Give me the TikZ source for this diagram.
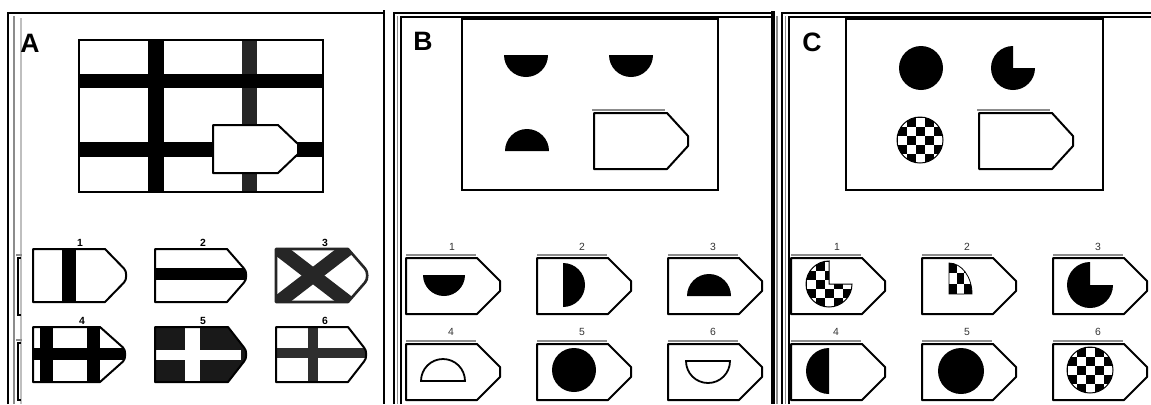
\documentclass[tikz,border=0pt]{standalone}
\usepackage{fontspec}
\setmainfont{Liberation Sans}
% flag with pointed tip: x0,y0,x1,xtip,y1
\newcommand\flagpath[5]{(#1,#2) -- (#3,#2) -- (#4,{(#2+#5)/2-5}) -- (#4,{(#2+#5)/2+5}) -- (#3,#5) -- (#1,#5) -- cycle}
% flag with rounded tip
\newcommand\aflagpath[5]{(#1,#2) -- (#3,#2) -- ({#4-3},{(#2+#5)/2-7}) .. controls (#4,{(#2+#5)/2-4}) and (#4,{(#2+#5)/2+4}) .. ({#4-3},{(#2+#5)/2+7}) -- (#3,#5) -- (#1,#5) -- cycle}
% checker cells: origin x, origin y, cell w, cell h, parity
\newcommand\checkcells[5]{%
  \foreach \ci in {-4,...,4}{\foreach \cj in {-4,...,4}{%
    \pgfmathtruncatemacro\cpar{mod(\ci+\cj+10+#5,2)}%
    \ifnum\cpar=0 \fill ({#1+\ci*#3},{#2+\cj*#4}) rectangle ++(#3,#4);\fi}}}
\tikzset{
  frameline/.style={draw=black, line width=1pt},
  shadeline/.style={draw=black!45, line width=0.8pt},
  lightline/.style={draw=black!25, line width=0.8pt},
  qbox/.style={draw=black, line width=1pt},
  flagbox/.style={draw=black, line width=1pt, fill=white, line join=round},
  plabel/.style={font=\fontsize{13.3}{14}\selectfont\bfseries, inner sep=0pt, anchor=base west},
  nlabel/.style={font=\fontsize{5.2}{6}\selectfont, text=black!80, inner sep=0pt, anchor=base},
  alabel/.style={font=\fontsize{5.2}{6}\selectfont\bfseries, inner sep=0pt, anchor=base},
  darkband/.style={fill=black!85},
}
\begin{document}
\begin{tikzpicture}[x=0.5pt,y=-0.5pt]
\useasboundingbox (0,0) rectangle (1151,404);
\fill[white] (0,0) rectangle (1151,404);

% ---------- window frames ----------
\draw[frameline] (8,404) -- (8,13) -- (384,13);
\draw[frameline] (383.5,10) -- (383.5,404);
\draw[shadeline] (14,16) -- (14,404);
\draw[lightline] (21,18) -- (21,404);
\draw[line width=0.6pt] (20.5,258) -- (18,258) -- (18,315) -- (20.5,315);
\draw[line width=0.6pt] (20.5,343) -- (18,343) -- (18,400) -- (20.5,400);
\draw[shadeline] (16,255) -- (22,255);
\draw[shadeline] (16,340) -- (22,340);

\draw[frameline] (394,404) -- (394,13) -- (773,13);
\draw[shadeline] (397.5,16) -- (397.5,404);
\draw[frameline] (401,404) -- (401,16.5) -- (773,16.5);
\draw[frameline, line width=2pt] (773,11) -- (773,404);
\draw[shadeline] (777,16) -- (777,404);

\draw[frameline] (782,404) -- (782,13) -- (1151,13);
\draw[shadeline] (785.5,16) -- (785.5,404);
\draw[frameline] (789,404) -- (789,16.5) -- (1151,16.5);

% ---------- panel labels ----------
\node[plabel] (la) at (20,52) {A};
\node[plabel] (lb) at (413,50) {B};
\node[plabel] (lc) at (802,51) {C};

% ---------- panel A: grid ----------
\fill (148,40) rectangle (164,192);
\fill[black!85] (242,40) rectangle (257,192);
\fill (79,74) rectangle (323,88);
\fill (79,142) rectangle (323,157);
\draw[qbox] (79,40) rectangle (323,192);
\draw[flagbox] \flagpath{213}{125}{278}{298}{173};

% ---------- panel A: options ----------
\node[alabel] (a1) at (80,246) {1};
\node[alabel] (a2) at (203,246) {2};
\node[alabel] (a3) at (325,246) {3};
\node[alabel] (a4) at (82,324) {4};
\node[alabel] (a5) at (203,324) {5};
\node[alabel] (a6) at (325,324) {6};

% A1
\fill[white] \aflagpath{33}{249}{105}{127}{302};
\begin{scope}\clip \aflagpath{33}{249}{105}{127}{302};
\fill (62,249) rectangle (76,302);
\end{scope}
\draw[flagbox, fill=none] \aflagpath{33}{249}{105}{127}{302};
% A2
\fill[white] \aflagpath{155}{249}{227}{247}{302};
\begin{scope}\clip \aflagpath{155}{249}{227}{247}{302};
\fill (155,268) rectangle (250,280);
\end{scope}
\draw[flagbox, fill=none] \aflagpath{155}{249}{227}{247}{302};
% A3
\fill[white] \aflagpath{276}{249}{348}{368}{302};
\begin{scope}\clip \aflagpath{276}{249}{348}{368}{302};
\draw[black!85, line width=7pt] (276,247) -- (350,304);
\draw[black!85, line width=7pt] (350,247) -- (276,304);
\end{scope}
\draw[flagbox, fill=none, draw=black!85, line width=1.3pt] \aflagpath{276}{249}{348}{368}{302};
% A4
\fill[white] \aflagpath{33}{327}{100}{126}{382};
\begin{scope}\clip \aflagpath{33}{327}{100}{126}{382};
\fill (40,327) rectangle (53,382);
\fill (87,327) rectangle (100,382);
\fill (33,348) rectangle (130,360);
\end{scope}
\draw[flagbox, fill=none] \aflagpath{33}{327}{100}{126}{382};
% A5
\fill[black!90] \aflagpath{155}{327}{228}{247}{382};
\fill[white] (185,327) rectangle (200,382);
\fill[white] (155,350) rectangle (241,360);
\draw[flagbox, fill=none] \aflagpath{155}{327}{228}{247}{382};
% A6
\fill[white] \aflagpath{276}{327}{348}{367}{382};
\begin{scope}\clip \aflagpath{276}{327}{348}{367}{382};
\fill[black!82] (308,327) rectangle (318,382);
\fill[black!82] (276,348) rectangle (370,358);
\end{scope}
\draw[flagbox, fill=none] \aflagpath{276}{327}{348}{367}{382};

% ---------- panel B: question ----------
\draw[qbox] (462,19) rectangle (718,190);
\fill (504,55) arc[start angle=180, end angle=0, radius=22] -- cycle;
\fill (609,55) arc[start angle=180, end angle=0, radius=22] -- cycle;
\fill (505,151) arc[start angle=180, end angle=360, radius=22] -- cycle;
\draw[shadeline] (592,110) -- (665,110);
\draw[flagbox] \flagpath{594}{113}{667}{688}{169};

% ---------- panel B: options ----------
\node[nlabel] (b1) at (452,250) {1};
\node[nlabel] (b2) at (582,250) {2};
\node[nlabel] (b3) at (713,250) {3};
\node[nlabel] (b4) at (451,335) {4};
\node[nlabel] (b5) at (582,335) {5};
\node[nlabel] (b6) at (713,335) {6};
\foreach \fx in {406,537,668}{
  \draw[shadeline] (\fx,255) -- ({\fx+70},255);
  \draw[shadeline] (\fx,341) -- ({\fx+70},341);
  \draw[flagbox] \flagpath{\fx}{258}{\fx+71}{\fx+94}{314};
  \draw[flagbox] \flagpath{\fx}{344}{\fx+71}{\fx+94}{400};
}
\fill (423,275) arc[start angle=180, end angle=0, radius=21] -- cycle;
\fill (563,263) arc[start angle=270, end angle=450, radius=22] -- cycle;
\fill (687,296) arc[start angle=180, end angle=360, radius=22] -- cycle;
\draw[line width=0.9pt] (421,381) arc[start angle=180, end angle=360, radius=22] -- cycle;
\fill (574,370) circle[radius=22];
\draw[line width=0.9pt] (686,361) arc[start angle=180, end angle=0, radius=22] -- cycle;

% ---------- panel C: question ----------
\draw[qbox] (846,19) rectangle (1103,190);
\fill (921,68) circle[radius=22];
\fill (1013,68) -- (1035,68) arc[start angle=0, end angle=270, radius=22] -- cycle;
\begin{scope}\clip (920,140) circle[radius=23];
\checkcells{915.5}{135.5}{9}{9}{1}
\end{scope}
\draw[line width=0.5pt] (920,140) circle[radius=23];
\draw[shadeline] (977,110) -- (1050,110);
\draw[flagbox] \flagpath{979}{113}{1052}{1073}{169};

% ---------- panel C: options ----------
\node[nlabel] (c1) at (837,250) {1};
\node[nlabel] (c2) at (967,250) {2};
\node[nlabel] (c3) at (1098,250) {3};
\node[nlabel] (c4) at (836,335) {4};
\node[nlabel] (c5) at (967,335) {5};
\node[nlabel] (c6) at (1098,335) {6};
\foreach \fx in {791,922,1053}{
  \draw[shadeline] (\fx,255) -- ({\fx+70},255);
  \draw[shadeline] (\fx,341) -- ({\fx+70},341);
  \draw[flagbox] \flagpath{\fx}{258}{\fx+71}{\fx+94}{314};
  \draw[flagbox] \flagpath{\fx}{344}{\fx+71}{\fx+94}{400};
}
% C1 checkered pac-man
\begin{scope}\clip (829,284) -- (852,284) arc[start angle=0, end angle=270, radius=23] -- cycle;
\checkcells{824.5}{279.5}{9}{9}{1}
\end{scope}
\draw[line width=0.5pt] (829,284) -- (852,284) arc[start angle=0, end angle=270, radius=23] -- cycle;
% C2 checkered quarter
\begin{scope}\clip (949,294) -- (949,263) arc[start angle=270, end angle=360, x radius=23, y radius=31] -- cycle;
\checkcells{949}{283.5}{7.7}{10.5}{0}
\end{scope}
\draw[line width=0.4pt] (949,294) -- (949,263) arc[start angle=270, end angle=360, x radius=23, y radius=31] -- cycle;
% C3 pac-man
\fill (1090,285) -- (1113,285) arc[start angle=0, end angle=270, radius=23] -- cycle;
% C4 left half disc
\fill (829,348) arc[start angle=270, end angle=90, radius=23] -- cycle;
% C5 disc
\fill (961,371) circle[radius=23];
% C6 checkered disc
\begin{scope}\clip (1090,370) circle[radius=23];
\checkcells{1085.5}{365.5}{9}{9}{1}
\end{scope}
\draw[line width=0.5pt] (1090,370) circle[radius=23];
\end{tikzpicture}
\end{document}
